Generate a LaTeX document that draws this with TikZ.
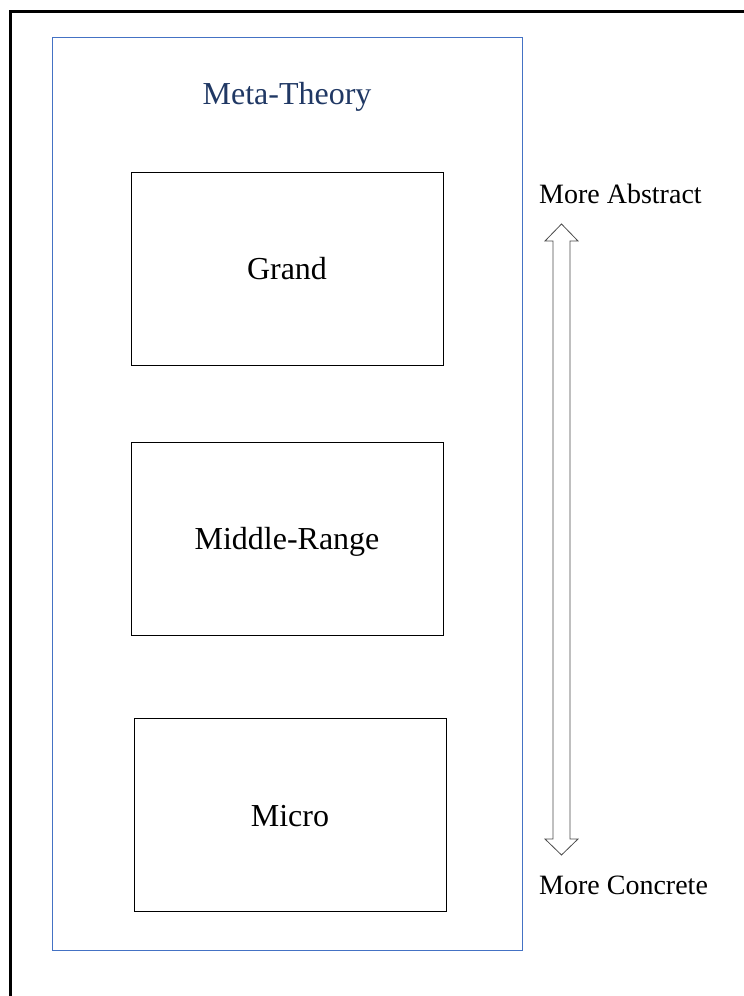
\documentclass[tikz,border=0pt]{standalone}
\usepackage{fontspec}
\setmainfont{Liberation Serif}
\definecolor{frameblue}{HTML}{4472C4}
\definecolor{titlenavy}{HTML}{203864}
\begin{document}
\begin{tikzpicture}[x=1pt,y=-1pt,
  levelbox/.style={draw=black,line width=1pt,minimum width=312pt,minimum height=193pt,inner sep=0pt},
  leveltext/.style={anchor=base,inner sep=0pt,font=\fontsize{32}{36}\selectfont},
  sidelabel/.style={anchor=base west,font=\fontsize{28}{32}\selectfont,inner sep=0pt}]
  \useasboundingbox (0,0) rectangle (744,996);
  % outer frame (top and left edges run off the page)
  \draw[line width=3pt] (10.5,1000) -- (10.5,11.5) -- (750,11.5);
  % meta-theory container
  \node[draw=frameblue,line width=1pt,minimum width=470pt,minimum height=913pt,inner sep=0pt] (meta) at (287,493.5) {};
  \node[leveltext,text=titlenavy] (title) at (287,104) {Meta-Theory};
  % theory levels
  \node[levelbox] (grand) at (287,268.5) {};
  \node[leveltext] (grandtext) at (287,279) {Grand};
  \node[levelbox] (middle) at (287,538.5) {};
  \node[leveltext] (middletext) at (287,549) {Middle-Range};
  \node[levelbox] (micro) at (290,814.5) {};
  \node[leveltext] (microtext) at (290,826) {Micro};
  % abstraction scale
  \node[sidelabel] (abstract) at (539,203) {More Abstract};
  \node[sidelabel] (concrete) at (539,894) {More Concrete};
  \coordinate (top) at (561.5,224);
  \coordinate (bot) at (561.5,855);
  \draw[line width=0.8pt,draw=black!70,fill=white]
    (top) -- ++(16.5,17) -- ++(-8,0) -- ++(0,598) -- ++(8,0) -- (bot)
    -- ++(-16.5,-16) -- ++(8,0) -- ++(0,-598) -- ++(-8,0) -- cycle;
\end{tikzpicture}
\end{document}
